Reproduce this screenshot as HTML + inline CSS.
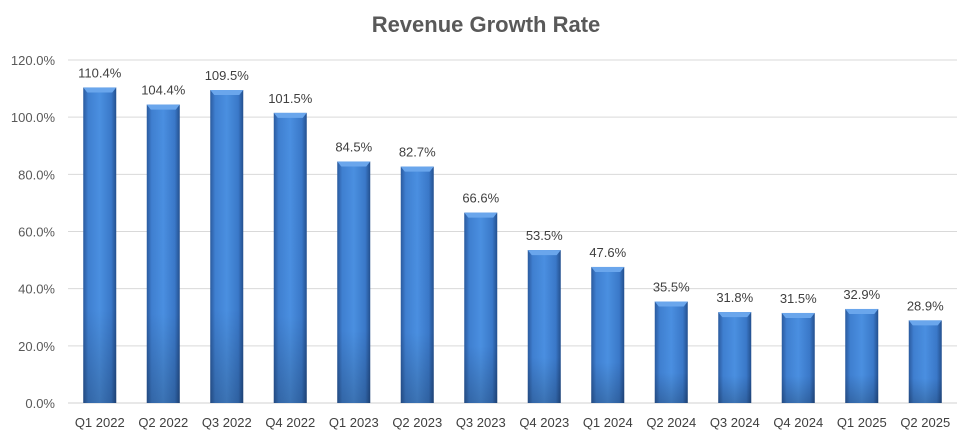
<!DOCTYPE html>
<html><head><meta charset="utf-8"><style>
body{margin:0;background:#fff;}
svg text{font-family:"Liberation Sans",sans-serif;}
</style></head><body>
<svg id="chart" width="966" height="432" viewBox="0 0 966 432" xmlns="http://www.w3.org/2000/svg">
<defs>
<linearGradient id="barg" x1="0" x2="1" y1="0" y2="0">
<stop offset="0" stop-color="#2a5a9e"/><stop offset="0.15" stop-color="#3f7fd0"/><stop offset="0.5" stop-color="#4a8fe0"/><stop offset="0.85" stop-color="#3a78c8"/><stop offset="1" stop-color="#234f8e"/>
</linearGradient>
<linearGradient id="barv" x1="0" x2="0" y1="0" y2="1">
<stop offset="0" stop-color="#000" stop-opacity="0"/><stop offset="0.7" stop-color="#000" stop-opacity="0"/><stop offset="1" stop-color="#000" stop-opacity="0.2"/>
</linearGradient>
</defs>
<rect width="966" height="432" fill="#fff"/>
<text x="486" y="32" text-anchor="middle" font-size="22" font-weight="bold" fill="#595959">Revenue Growth Rate</text>
<g id="grid"></g><g id="bars"></g><g id="labels"></g>
</svg>
<script>
const categories=["Q1 2022","Q2 2022","Q3 2022","Q4 2022","Q1 2023","Q2 2023","Q3 2023","Q4 2023","Q1 2024","Q2 2024","Q3 2024","Q4 2024","Q1 2025","Q2 2025"];
const values=[110.4,104.4,109.5,101.5,84.5,82.7,66.6,53.5,47.6,35.5,31.8,31.5,32.9,28.9];
const yTicks=[0,20,40,60,80,100,120];
const NS="http://www.w3.org/2000/svg";
const plotLeft=68,plotRight=957,plotTop=60,plotBottom=403,ymax=120;
const band=(plotRight-plotLeft)/categories.length;
const yScale=v=>plotBottom-(v/ymax)*(plotBottom-plotTop);
const xc=i=>plotLeft+band*(i+0.5);
function mk(t,a,p){const e=document.createElementNS(NS,t);for(const k in a)e.setAttribute(k,a[k]);p.appendChild(e);return e;}
const grid=document.getElementById('grid'),bars=document.getElementById('bars'),labels=document.getElementById('labels');
yTicks.forEach(t=>{
 const l=mk('line',{x1:plotLeft,x2:plotRight,y1:yScale(t),y2:yScale(t),stroke:t===0?'#d0d0d0':'#d9d9d9','stroke-width':1},grid);
 
 
 const tx=mk('text',{x:55,y:yScale(t)+5,'text-anchor':'end','font-size':13,fill:'#595959'},grid);
 tx.textContent=t.toFixed(1)+'%';
 
 
});
const bw=33;
values.forEach((v,i)=>{
 const g=mk('g',{},bars);
 
 
 const x0=xc(i)-bw/2,y0=yScale(v),h=plotBottom-y0;
 mk('rect',{x:x0,y:y0,width:bw,height:h,fill:'url(#barg)'},g);
 mk('rect',{x:x0,y:y0,width:bw,height:h,fill:'url(#barv)'},g);
 mk('polygon',{points:`${x0},${y0} ${x0+bw},${y0} ${x0+bw-4},${y0+5} ${x0+4},${y0+5}`,fill:'#6aa6ec'},g);
 const lt=mk('text',{x:xc(i),y:y0-10,'text-anchor':'middle','font-size':13,fill:'#404040'},labels);
 lt.textContent=v.toFixed(1)+'%';
 
 
 const ct=mk('text',{x:xc(i),y:427,'text-anchor':'middle','font-size':13,fill:'#404040'},labels);
 ct.textContent=categories[i];
 
 
});
</script>
</body></html>
